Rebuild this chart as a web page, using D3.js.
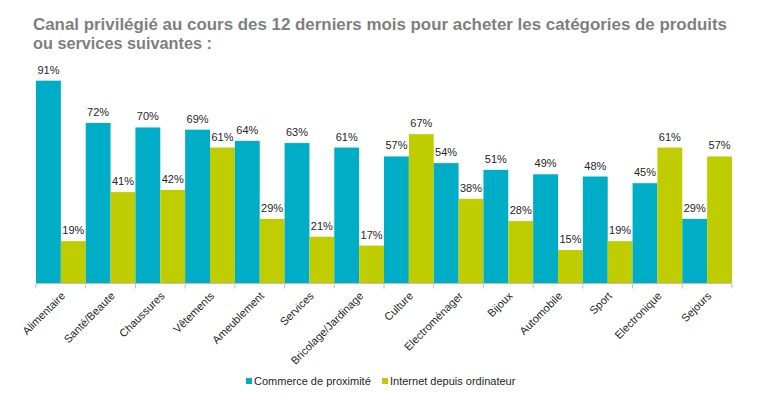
<!DOCTYPE html>
<html>
<head>
<meta charset="utf-8">
<script src="https://cdn.jsdelivr.net/npm/d3@7"></script>
<style>
  body { margin: 0; background: #fff; }
  svg { display: block; }
</style>
</head>
<body>
<div id="chart"></div>
<script>
// chart values
var categories = ["Alimentaire", "Santé/Beaute", "Chaussures", "Vêtements", "Ameublement", "Services",
                  "Bricolage/Jardinage", "Culture", "Electroménager", "Bijoux", "Automobile", "Sport",
                  "Electronique", "Sejours"]
var commerce = [91, 72, 70, 69, 64, 63, 61, 57, 54, 51, 49, 48, 45, 29]
var internet = [19, 41, 42, 61, 29, 21, 17, 67, 38, 28, 15, 19, 61, 57]
var seriesNames = ["Commerce de proximité", "Internet depuis ordinateur"]
var colors = ["#00adc6", "#bfcd00"]

var width = 783,
    height = 396

var svg = d3.select("#chart")
  .append("svg")
    .attr("width", width)
    .attr("height", height)

// title (two lines)
var title = svg.append("text")
  .style("font-family", "'Liberation Sans', Arial, sans-serif")
  .style("font-weight", "bold")
  .style("font-size", "16px")
  .style("fill", "#7f7f7f")
title.append("tspan").attr("x", 33).attr("y", 30)
  .attr("textLength", 694).attr("lengthAdjust", "spacingAndGlyphs")
  .text("Canal privilégié au cours des 12 derniers mois pour acheter les catégories de produits")
title.append("tspan").attr("x", 33).attr("y", 49)
  .attr("textLength", 179).attr("lengthAdjust", "spacingAndGlyphs")
  .text("ou services suivantes :")

// scales
var x = d3.scaleBand()
  .domain(categories)
  .range([36, 732])
  .padding(0)

var xs = d3.scaleBand()
  .domain([0, 1])
  .range([0, x.bandwidth()])

var y = d3.scaleLinear()
  .domain([0, 100])
  .range([283.5, 60.6])

var data = categories.map(function(c, i) {
  return { cat: c, values: [commerce[i], internet[i]] }
})

var groups = svg.selectAll(".grp")
  .data(data)
  .enter()
  .append("g")
    .attr("class", "grp")
    .attr("transform", function(d) { return "translate(" + x(d.cat) + ",0)" })

groups.selectAll("rect")
  .data(function(d) { return d.values })
  .enter()
  .append("rect")
    .attr("x", function(d, i) { return xs(i) })
    .attr("width", xs.bandwidth())
    .attr("y", function(d) { return y(d) })
    .attr("height", function(d) { return y(0) - y(d) })
    .attr("fill", function(d, i) { return colors[i] })

groups.selectAll(".val")
  .data(function(d) { return d.values })
  .enter()
  .append("text")
    .attr("class", "val")
    .attr("x", function(d, i) { return xs(i) + xs.bandwidth() / 2 })
    .attr("y", function(d) { return y(d) - 7 })
    .attr("text-anchor", "middle")
    .style("font-family", "'Liberation Sans', Arial, sans-serif")
    .style("font-size", "11px")
    .style("fill", "#262626")
    .text(function(d) { return d + "%" })

// x axis line and ticks
svg.append("line")
  .attr("x1", 36).attr("x2", 732)
  .attr("y1", y(0)).attr("y2", y(0))
  .attr("stroke", "#bfbfbf")
  .attr("stroke-width", 1)

svg.selectAll(".tick")
  .data(categories.concat(["end"]))
  .enter()
  .append("line")
    .attr("class", "tick")
    .attr("x1", function(d, i) { return i < categories.length ? x(d) : x.range()[1] })
    .attr("x2", function(d, i) { return i < categories.length ? x(d) : x.range()[1] })
    .attr("y1", y(0))
    .attr("y2", y(0) + 5)
    .attr("stroke", "#bfbfbf")

svg.selectAll(".xlab")
  .data(categories)
  .enter()
  .append("text")
    .attr("class", "xlab")
    .attr("transform", function(d) {
      return "translate(" + (x(d) + x.bandwidth() / 2 + 5) + "," + (y(0) + 13) + ") rotate(-45)"
    })
    .attr("text-anchor", "end")
    .style("font-family", "'Liberation Sans', Arial, sans-serif")
    .style("font-size", "11px")
    .style("fill", "#262626")
    .text(function(d) { return d })

// legend
var legendX = [246, 382]
var legend = svg.selectAll(".leg")
  .data(seriesNames)
  .enter()
  .append("g")
    .attr("class", "leg")
    .attr("transform", function(d, i) { return "translate(" + legendX[i] + ",381)" })

legend.append("rect")
  .attr("x", 0).attr("y", -3)
  .attr("width", 6).attr("height", 6)
  .attr("fill", function(d, i) { return colors[i] })

legend.append("text")
  .attr("x", 8)
  .attr("y", 4)
  .style("font-family", "'Liberation Sans', Arial, sans-serif")
  .style("font-size", "11px")
  .style("fill", "#262626")
  .text(function(d) { return d })
</script>
</body>
</html>
